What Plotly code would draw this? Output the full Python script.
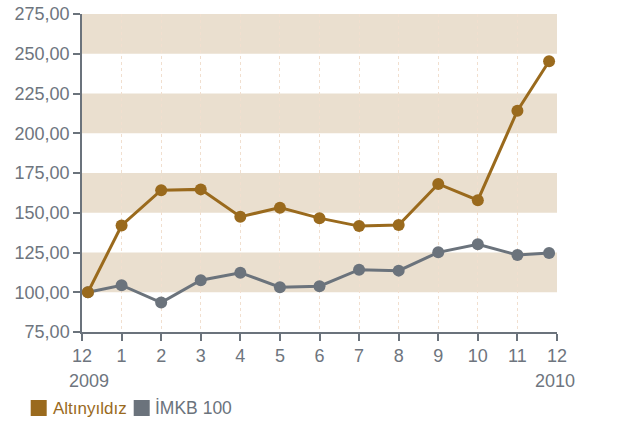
import plotly.graph_objects as go

# Data
month_index = [0.15, 1, 2, 3, 4, 5, 6, 7, 8, 9, 10, 11, 11.8]
altinyildiz = [100.0, 142.0, 164.2, 164.7, 147.5, 153.2, 146.6, 141.6, 142.3, 168.1, 157.9, 214.2, 245.3]
imkb100 = [100.0, 104.4, 93.5, 107.6, 112.3, 103.2, 103.8, 114.2, 113.6, 125.1, 130.2, 123.4, 124.7]
tick_vals = list(range(0, 13))
tick_text = ["12", "1", "2", "3", "4", "5", "6", "7", "8", "9", "10", "11", "12"]
band_ranges = [(100, 125), (150, 175), (200, 225), (250, 275)]
series_names = ["Altınyıldız", "İMKB 100"]

ORANGE = "#9a6a1d"
GRAY = "#6b737c"
BEIGE = "#eadfcf"
TXT = "#6e757e"
FONT = "Liberation Sans, Arial, sans-serif"

fig = go.Figure()
fig.add_trace(go.Scatter(x=month_index, y=imkb100, mode="lines+markers", name=series_names[1],
                         line=dict(color=GRAY, width=3), marker=dict(color=GRAY, size=12),
                         showlegend=False))
fig.add_trace(go.Scatter(x=month_index, y=altinyildiz, mode="lines+markers", name=series_names[0],
                         line=dict(color=ORANGE, width=3), marker=dict(color=ORANGE, size=12),
                         showlegend=False))

shapes = []
for lo, hi in band_ranges:
    shapes.append(dict(type="rect", xref="x", yref="y", x0=0, x1=12, y0=lo, y1=hi,
                       fillcolor=BEIGE, line=dict(width=0), layer="below"))

# legend swatches
shapes.append(dict(type="rect", xref="paper", yref="paper", xsizemode="pixel", ysizemode="pixel",
                   xanchor=-0.108, yanchor=-0.239, x0=0, x1=16, y0=-8, y1=8,
                   fillcolor=ORANGE, line=dict(width=0)))
shapes.append(dict(type="rect", xref="paper", yref="paper", xsizemode="pixel", ysizemode="pixel",
                   xanchor=-0.108, yanchor=-0.239, x0=103, x1=119, y0=-8, y1=8,
                   fillcolor=GRAY, line=dict(width=0)))

annotations = [
    dict(text="2009", xref="x", yref="paper", x=0, y=0, xanchor="left", yanchor="middle",
         xshift=-15, yshift=-49, showarrow=False, font=dict(size=18, color=TXT, family=FONT)),
    dict(text="2010", xref="x", yref="paper", x=12, y=0, xanchor="center", yanchor="middle",
         xshift=-2, yshift=-49, showarrow=False, font=dict(size=18, color=TXT, family=FONT)),
    dict(text=series_names[0], xref="paper", yref="paper", x=0, y=0, xanchor="left", yanchor="middle",
         xshift=-31, yshift=-76, showarrow=False, font=dict(size=17, color=ORANGE, family=FONT)),
    dict(text=series_names[1], xref="paper", yref="paper", x=0, y=0, xanchor="left", yanchor="middle",
         xshift=71, yshift=-76, showarrow=False, font=dict(size=17.5, color=GRAY, family=FONT)),
]

fig.update_layout(
    width=623, height=422,
    margin=dict(l=82, r=66, t=14, b=90),
    paper_bgcolor="white", plot_bgcolor="white",
    separators=",.",
    shapes=shapes, annotations=annotations,
    font=dict(family=FONT, color=TXT, size=18),
    xaxis=dict(range=[0, 12], tickmode="array", tickvals=tick_vals, ticktext=tick_text,
               showgrid=True, gridcolor="#f1dfcf", griddash="3px,3px", gridwidth=1,
               showline=True, linecolor=GRAY, linewidth=1.5, ticks="outside", ticklen=7,
               tickcolor=GRAY, tickwidth=1.5, zeroline=False, automargin=False,
               tickfont=dict(size=18, color=TXT)),
    yaxis=dict(range=[75, 275], tickmode="array", tickvals=list(range(75, 276, 25)), tickformat=".2f",
               showgrid=False, showline=True, linecolor=GRAY, linewidth=1.5, ticks="outside",
               ticklen=7, tickcolor=GRAY, tickwidth=1.5, zeroline=False, automargin=False,
               tickfont=dict(size=18, color=TXT)),
)

fig.write_html("out.html", config={"displayModeBar": False},
               post_script="document.body.style.margin='0';")
